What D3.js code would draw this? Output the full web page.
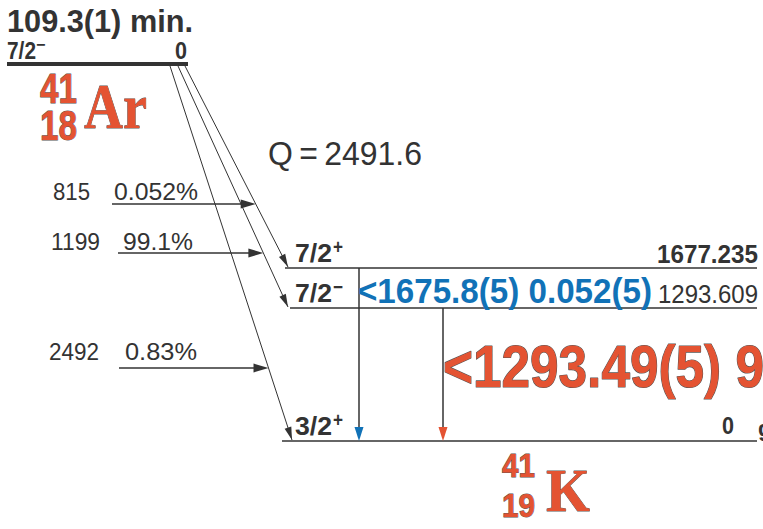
<!DOCTYPE html>
<html><head><meta charset="utf-8">
<script src="https://cdn.jsdelivr.net/npm/d3@7"></script>
<style>html,body{margin:0;padding:0;background:#fff;overflow:hidden}</style>
</head><body>
<svg id="c" width="763" height="529"></svg>
<script>
// ---------------- data ----------------
const parentHalfLife = "109.3(1) min.";
const parentSpin = ["7/2", "−"];
const parentEnergy = "0";
const qValue = 2491.6;
const levelEnergies = [1677.235, 1293.609, 0];
const levelLabels = ["1677.235", "1293.609", "0"];
const levelSpins = [["7/2", "+"], ["7/2", "−"], ["3/2", "+"]];
const betaEnergies = ["815", "1199", "2492"];
const betaIntensities = ["0.052%", "99.1%", "0.83%"];
const betaTargets = [1677.235, 1293.609, 0];
const gammaFrom = [1677.235, 1293.609];
const gammaTo = [0, 0];
const gammaLabels = ["<1675.8(5) 0.052(5)", "<1293.49(5) 99.1(2)"];
const gammaColors = ["#1172b7", "#e45332"];

// ---------------- layout ----------------
const svg = d3.select("#c");
const ink = "#333";
const red = "#e45332";
const y = d3.scaleLinear().domain([0, 1293.609, 1677.235, qValue]).range([441, 308, 268, 64]);
const gx = d3.scalePoint().domain(gammaFrom).range([359, 443]);

function txt(x, yy, s, o = {}) {
  const t = svg.append("text").attr("x", x).attr("y", yy).text(s)
    .attr("font-family", o.family || "'Liberation Sans', Arial, sans-serif")
    .attr("font-size", o.size || 20)
    .attr("font-weight", o.weight || "normal")
    .attr("fill", o.fill || ink);
  if (o.len) t.attr("textLength", o.len).attr("lengthAdjust", "spacingAndGlyphs");
  if (o.stroke) t.attr("stroke", o.stroke).attr("stroke-width", o.sw || 1).attr("paint-order", "stroke").attr("stroke-linejoin", "round");
  if (o.anchor) t.attr("text-anchor", o.anchor);
  if (o.transform) t.attr("transform", o.transform);
  return t;
}
function tri(tip, dir, len, hw, fill) {
  const [tx, ty] = tip, [dx, dy] = dir;
  const n = Math.hypot(dx, dy), ux = dx / n, uy = dy / n;
  const bx = tx - ux * len, by = ty - uy * len;
  svg.append("path").attr("d", `M${tx},${ty}L${bx - uy * hw},${by + ux * hw}L${bx + uy * hw},${by - ux * hw}Z`).attr("fill", fill);
}

// parent
txt(7, 32, parentHalfLife, {size: 31, weight: "bold", len: 186});
txt(7, 59, parentSpin[0], {size: 23, weight: "bold", len: 29});
txt(36, 50, parentSpin[1], {size: 16, weight: "bold"});
txt(175, 59, parentEnergy, {size: 23, weight: "bold", len: 12});
svg.append("line").attr("x1", 7).attr("x2", 188).attr("y1", y(qValue)).attr("y2", y(qValue)).attr("stroke", ink).attr("stroke-width", 4);

// Ar label
txt(40, 103, "41", {size: 42, weight: "bold", fill: red, stroke: "#555", sw: 1, len: 37});
txt(40, 140, "18", {size: 42, weight: "bold", fill: red, stroke: "#555", sw: 1, len: 37});
txt(84, 128, "Ar", {size: 64, weight: "bold", fill: red, stroke: "#555", sw: 0.8, len: 63, family: "'Liberation Serif', 'Times New Roman', serif"});

// Q value
txt(268, 165, "Q\u2009=\u20092491.6", {size: 33, len: 154});

// levels
levelEnergies.forEach((e, i) => {
  const x0 = [285, 290, 282][i];
  svg.append("line").attr("x1", x0).attr("x2", 757).attr("y1", y(e)).attr("y2", y(e)).attr("stroke", ink).attr("stroke-width", 1.5);
  const by = y(e) - 6;
  txt(295, by, levelSpins[i][0], {size: 25, weight: "bold", len: 37});
  txt(333, by - 8, levelSpins[i][1], {size: 20, weight: "bold", len: 10});
});
txt(657, 263, levelLabels[0], {size: 25, weight: "bold", len: 101});
txt(658, 303, levelLabels[1], {size: 26, len: 100});
txt(722, 434, levelLabels[2], {size: 23, weight: "bold", len: 12});
txt(758, 436, "gs", {size: 22, weight: "bold"});

// beta branches
const betaStartX = [185, 178, 170];
const betaEndX = [288, 288, 292];
const feedY = [204, 253, 368];
const feedX0 = [112, 118, 119];
const enX = [53, 51, 49], enLen = [37, 49, 50];
const inX = [114, 123, 125], inLen = [84, 70, 72];
const labY = [200, 250, 360];
betaTargets.forEach((e, i) => {
  const x0 = betaStartX[i], y0 = y(qValue) + 2, x1 = betaEndX[i], y1 = y(e) - 1;
  svg.append("line").attr("x1", x0).attr("y1", y0).attr("x2", x1).attr("y2", y1).attr("stroke", ink).attr("stroke-width", 1);
  tri([x1, y1], [x1 - x0, y1 - y0], 13, 3.5, ink);
  // feeding arrow
  const fy = feedY[i];
  const fx = x0 + (x1 - x0) * (fy - y0) / (y1 - y0);
  svg.append("line").attr("x1", feedX0[i]).attr("x2", fx - 4).attr("y1", fy).attr("y2", fy).attr("stroke", ink).attr("stroke-width", 1.5);
  tri([fx, fy], [1, 0], 15, 4.5, ink);
  txt(enX[i], labY[i], betaEnergies[i], {size: 24, len: enLen[i]});
  txt(inX[i], labY[i], betaIntensities[i], {size: 24, len: inLen[i]});
});

// gammas
gammaFrom.forEach((e, i) => {
  const x = gx(e);
  svg.append("line").attr("x1", x).attr("x2", x).attr("y1", y(e)).attr("y2", y(gammaTo[i]) - 8).attr("stroke", ink).attr("stroke-width", 1.5);
  tri([x, y(gammaTo[i])], [0, 1], 14, 4.5, gammaColors[i]);
});
txt(358, 303, gammaLabels[0], {size: 35, weight: "bold", fill: gammaColors[0], len: 294});
txt(0, 0, gammaLabels[1], {size: 59, weight: "bold", fill: gammaColors[1], stroke: "#555", sw: 1.2, transform: `translate(443,387) scale(0.87,1)`});

// K label
txt(502, 477, "41", {size: 33, weight: "bold", fill: red, stroke: "#555", sw: 1, len: 33});
txt(502, 517, "19", {size: 33, weight: "bold", fill: red, stroke: "#555", sw: 1, len: 33});
txt(546, 511, "K", {size: 62, weight: "bold", fill: red, stroke: "#555", sw: 0.8, len: 44, family: "'Liberation Serif', 'Times New Roman', serif"});
</script>
</body></html>
